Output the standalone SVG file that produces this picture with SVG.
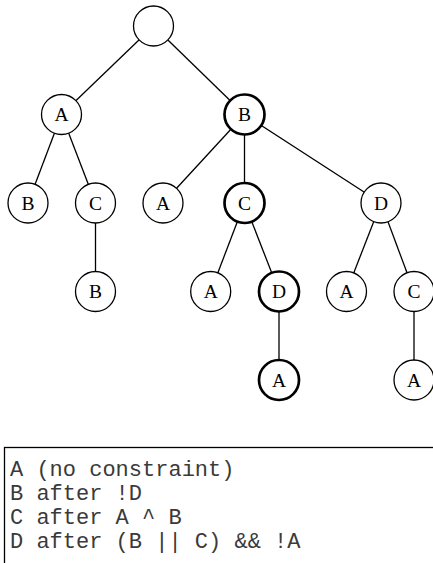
<svg xmlns="http://www.w3.org/2000/svg" width="433" height="563" viewBox="0 0 433 563">
<style>
.n{fill:#fff;stroke:#000;stroke-width:1.3}
.t{stroke-width:2.7}
.l{font-family:"Liberation Serif","Times New Roman",serif;font-size:19.5px;text-anchor:middle;fill:#000}
.e line{stroke:#000;stroke-width:1.3}
.c{font-family:"Liberation Mono","Courier New",monospace;font-size:22px;fill:#3a3a3a;white-space:pre}
</style>
<rect width="433" height="563" fill="#fff"/>
<g id="connectors" class="e">
<line x1="153.5" y1="26" x2="61.5" y2="114.5"/>
<line x1="153.5" y1="26" x2="244.5" y2="114.5"/>
<line x1="61.5" y1="114.5" x2="28" y2="203"/>
<line x1="61.5" y1="114.5" x2="95.5" y2="203"/>
<line x1="95.5" y1="203" x2="95.5" y2="291.5"/>
<line x1="244.5" y1="114.5" x2="163" y2="203"/>
<line x1="244.5" y1="114.5" x2="244.5" y2="203"/>
<line x1="244.5" y1="114.5" x2="381" y2="203"/>
<line x1="244.5" y1="203" x2="210.7" y2="291.5"/>
<line x1="244.5" y1="203" x2="279" y2="291.5"/>
<line x1="279" y1="291.5" x2="279" y2="380"/>
<line x1="381" y1="203" x2="346.5" y2="291.5"/>
<line x1="381" y1="203" x2="414" y2="291.5"/>
<line x1="414" y1="291.5" x2="414" y2="380"/>
</g>
<g id="root"><circle class="n" cx="153.5" cy="26" r="20"/></g>
<g id="n-A1"><circle class="n" cx="61.5" cy="114.5" r="20"/><text class="l" x="61.5" y="121">A</text></g>
<g id="n-B1"><circle class="n t" cx="244.5" cy="114.5" r="20"/><text class="l" x="244.5" y="121">B</text></g>
<g id="n-AB"><circle class="n" cx="28" cy="203" r="20"/><text class="l" x="28" y="209.5">B</text></g>
<g id="n-AC"><circle class="n" cx="95.5" cy="203" r="20"/><text class="l" x="95.5" y="209.5">C</text></g>
<g id="n-ACB"><circle class="n" cx="95.5" cy="291.5" r="20"/><text class="l" x="95.5" y="298">B</text></g>
<g id="n-BA"><circle class="n" cx="163" cy="203" r="20"/><text class="l" x="163" y="209.5">A</text></g>
<g id="n-BC"><circle class="n t" cx="244.5" cy="203" r="20"/><text class="l" x="244.5" y="209.5">C</text></g>
<g id="n-BD"><circle class="n" cx="381" cy="203" r="20"/><text class="l" x="381" y="209.5">D</text></g>
<g id="n-BCA"><circle class="n" cx="210.7" cy="291.5" r="20"/><text class="l" x="210.7" y="298">A</text></g>
<g id="n-BCD"><circle class="n t" cx="279" cy="291.5" r="20"/><text class="l" x="279" y="298">D</text></g>
<g id="n-BDA"><circle class="n" cx="346.5" cy="291.5" r="20"/><text class="l" x="346.5" y="298">A</text></g>
<g id="n-BDC"><circle class="n" cx="414" cy="291.5" r="20"/><text class="l" x="414" y="298">C</text></g>
<g id="n-BCDA"><circle class="n t" cx="279" cy="380" r="20"/><text class="l" x="279" y="386.5">A</text></g>
<g id="n-BDCA"><circle class="n" cx="414" cy="380" r="20"/><text class="l" x="414" y="386.5">A</text></g>
<g id="legend">
<rect x="4.5" y="447.5" width="440" height="130" fill="none" stroke="#000" stroke-width="1.3"/>
<text class="c" x="10" y="476">A (no constraint)</text>
<text class="c" x="10" y="500">B after !D</text>
<text class="c" x="10" y="524">C after A ^ B</text>
<text class="c" x="10" y="548">D after (B || C) &amp;&amp; !A</text>
</g>
</svg>
